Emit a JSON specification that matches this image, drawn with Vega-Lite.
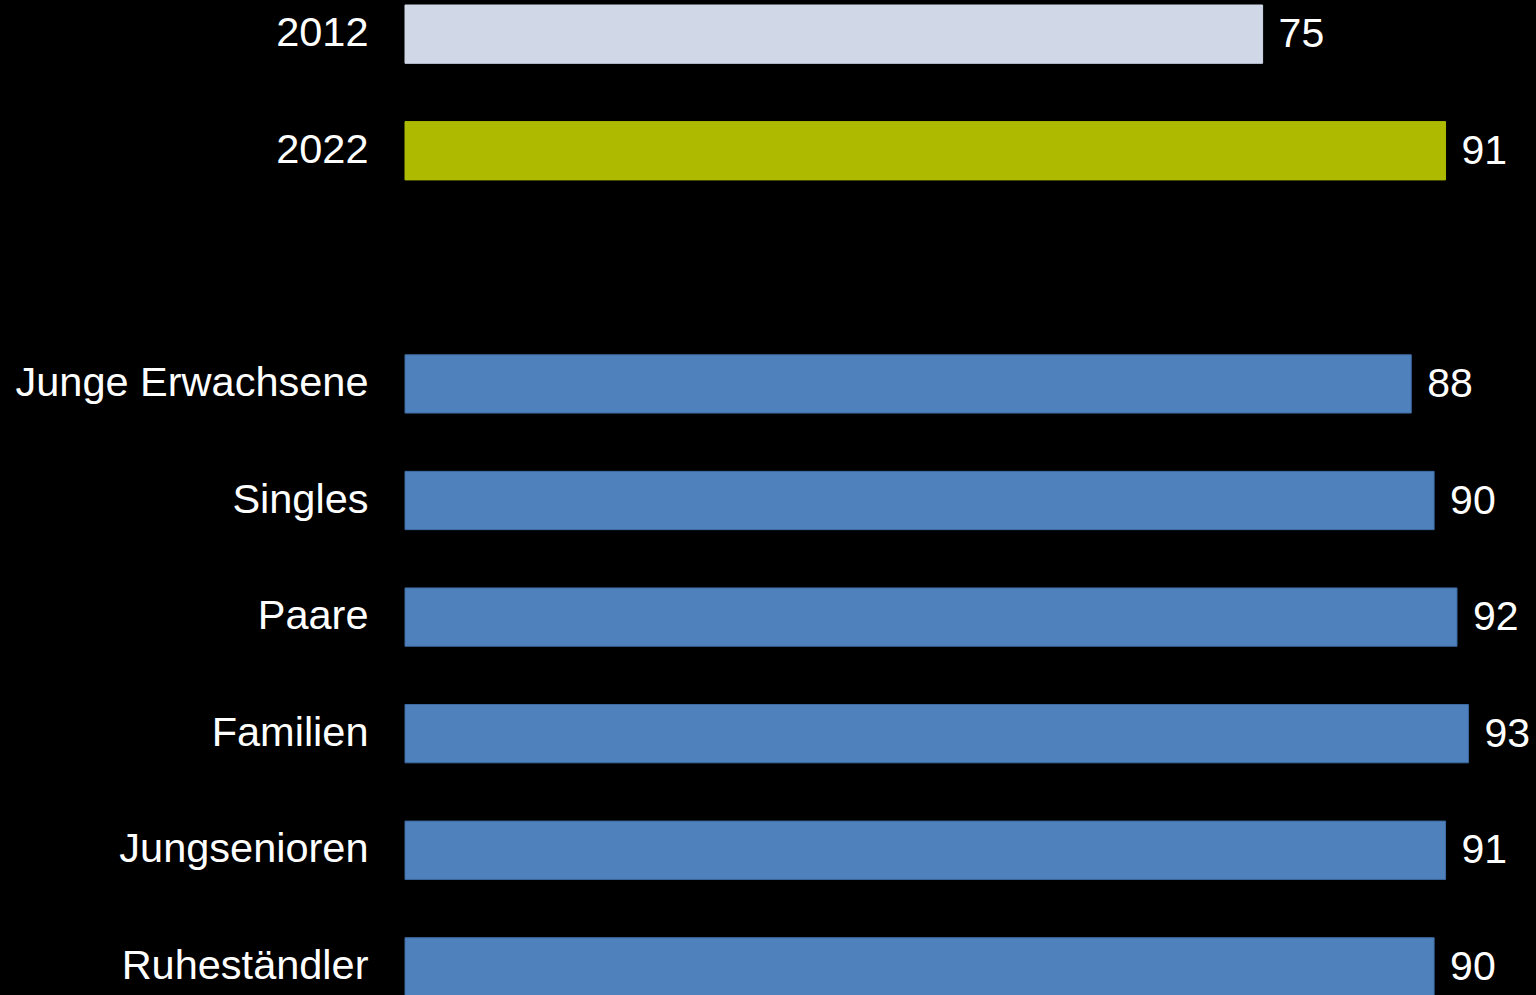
{
  "$schema": "https://vega.github.io/schema/vega-lite/v6.json",
  "width": 1131,
  "height": 1001,
  "autosize": {"type": "none"},
  "padding": {"left": 405, "top": 0, "right": 0, "bottom": 0},
  "background": "#000000",
  "config": {"view": {"stroke": null}},
  "data": {
    "values": [
      {"label": "2012", "group": "2012", "value": 75},
      {"label": "2022", "group": "2022", "value": 91},
      {"label": "Junge Erwachsene", "group": "Lebensphase", "value": 88},
      {"label": "Singles", "group": "Lebensphase", "value": 90},
      {"label": "Paare", "group": "Lebensphase", "value": 92},
      {"label": "Familien", "group": "Lebensphase", "value": 93},
      {"label": "Jungsenioren", "group": "Lebensphase", "value": 91},
      {"label": "Ruheständler", "group": "Lebensphase", "value": 90}
    ]
  },
  "encoding": {
    "y": {
      "field": "label",
      "type": "nominal",
      "scale": {
        "domain": ["2012", "2022", " ", "Junge Erwachsene", "Singles", "Paare", "Familien", "Jungsenioren", "Ruheständler"],
        "paddingInner": 0.5,
        "paddingOuter": 0.043
      },
      "axis": {
        "title": null,
        "domain": false,
        "ticks": false,
        "labelPadding": 37,
        "labelFont": "Liberation Sans",
        "labelFontSize": 41.5,
        "labelColor": "#ffffff",
        "labelLimit": 500
      }
    },
    "x": {
      "field": "value",
      "type": "quantitative",
      "scale": {"domain": [0, 98.91], "nice": false, "zero": true},
      "axis": null
    }
  },
  "layer": [
    {
      "mark": {"type": "bar", "strokeWidth": 1},
      "encoding": {
        "color": {
          "field": "group",
          "type": "nominal",
          "scale": {"domain": ["2012", "2022", "Lebensphase"], "range": ["#D0D8E8", "#ADBA00", "#4F81BD"]},
          "legend": null
        },
        "stroke": {
          "field": "group",
          "type": "nominal",
          "scale": {"domain": ["2012", "2022", "Lebensphase"], "range": ["#D0D8E8", "#ADBA00", "#3E6CA3"]},
          "legend": null
        }
      }
    },
    {
      "mark": {"type": "text", "align": "left", "baseline": "middle", "dx": 16, "dy": 1, "font": "Liberation Sans", "fontSize": 41, "color": "#ffffff"},
      "encoding": {
        "text": {"field": "value", "type": "quantitative"}
      }
    }
  ]
}
